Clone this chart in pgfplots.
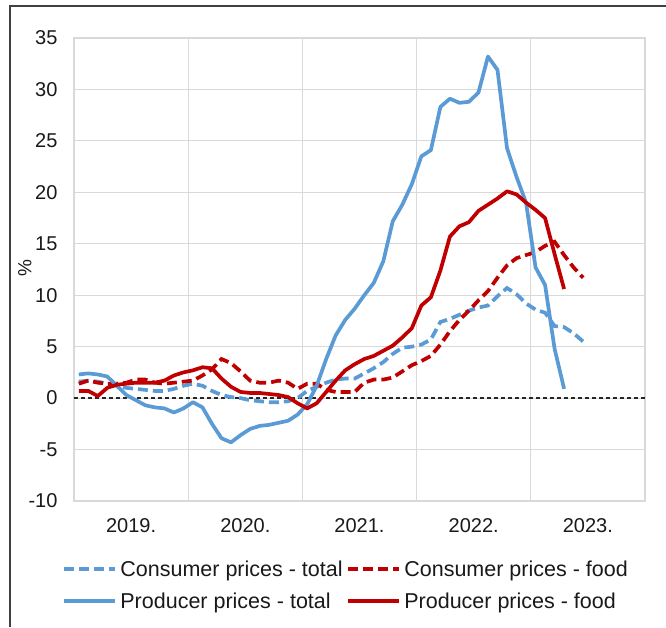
\documentclass[border=0pt]{standalone}
\usepackage{pgfplots}
\usepackage{pgfplotstable}
\pgfplotsset{compat=1.18}
\usepackage{fontspec}
\setmainfont{Liberation Sans}
\definecolor{cblue}{RGB}{91,155,213}
\definecolor{cred}{RGB}{192,0,0}
\definecolor{gridgray}{RGB}{217,217,217}

\pgfplotstableread{
i cpit cpif ppit ppif
0 1.6 1.4 2.3 0.7
1 1.7 1.7 2.4 0.7
2 1.6 1.5 2.3 0.2
3 1.4 1.4 2.1 1.0
4 1.2 1.4 1.2 1.3
5 1.0 1.5 0.3 1.4
6 0.9 1.8 -0.2 1.5
7 0.8 1.8 -0.7 1.5
8 0.7 1.5 -0.9 1.5
9 0.7 1.4 -1.0 1.7
10 0.9 1.5 -1.4 2.2
11 1.2 1.6 -1.0 2.5
12 1.4 1.7 -0.4 2.7
13 1.2 2.2 -0.9 3.0
14 0.7 2.8 -2.5 2.9
15 0.3 3.8 -3.9 1.9
16 0.1 3.4 -4.3 1.1
17 0.0 2.6 -3.6 0.6
18 -0.2 1.7 -3.0 0.5
19 -0.3 1.5 -2.7 0.5
20 -0.4 1.5 -2.6 0.4
21 -0.4 1.7 -2.4 0.3
22 -0.3 1.5 -2.2 0.1
23 0.0 0.9 -1.6 -0.5
24 0.7 1.4 -0.6 -1.0
25 1.1 1.4 1.2 -0.5
26 1.5 0.8 3.8 0.6
27 1.8 0.6 6.1 1.7
28 1.9 0.6 7.6 2.7
29 1.9 0.6 8.7 3.3
30 2.4 1.5 10.0 3.8
31 2.9 1.8 11.2 4.1
32 3.5 1.8 13.3 4.6
33 4.3 2.0 17.2 5.1
34 4.9 2.6 18.8 5.9
35 5.0 3.2 20.8 6.8
36 5.2 3.6 23.5 9.0
37 5.7 4.1 24.1 9.8
38 7.4 5.2 28.3 12.4
39 7.7 6.5 29.1 15.7
40 8.1 7.6 28.7 16.7
41 8.5 8.5 28.8 17.1
42 8.8 9.5 29.7 18.2
43 9.0 10.4 33.2 18.8
44 9.9 11.7 31.9 19.4
45 10.7 12.9 24.3 20.1
46 10.1 13.6 21.5 19.8
47 9.2 13.9 19.0 19.0
48 8.6 14.2 12.7 18.3
49 8.3 14.8 11.0 17.5
50 7.0 15.2 4.8 14.0
51 6.9 13.9 0.9 10.6
52 6.3 12.7 nan nan
53 5.5 11.7 nan nan
}\datatable

\begin{document}
\begin{tikzpicture}
\useasboundingbox (0,0) rectangle (666pt,627pt);
\draw[line width=1.5pt, black!75] (10pt,0pt) -- (10pt,621pt) -- (666pt,621pt);
\begin{axis}[
  at={(74pt,126pt)}, anchor=south west,
  scale only axis, width=571pt, height=463pt,
  xmin=-0.5, xmax=59.5, ymin=-10, ymax=35,
  ytick={-10,-5,...,35},
  xtick={5.5,17.5,29.5,41.5,53.5},
  xticklabels={2019.,2020.,2021.,2022.,2023.},
  minor xtick={11.5,23.5,35.5,47.5},
  xminorgrids, ymajorgrids, xmajorgrids=false,
  grid style={draw=gridgray, line width=1.2pt},
  minor grid style={draw=gridgray, line width=1.2pt},
  axis line style={draw=gridgray, line width=1.2pt},
  major tick length=0pt, minor tick length=0pt,
  /pgf/number format/assume math mode=true,
  tick label style={font=\fontsize{20}{24}\selectfont, text=black!90},
  yticklabel style={xshift=-13pt},
  xticklabel style={yshift=-14pt},
  ylabel={\%},
  every axis y label/.style={at={(axis description cs:-0.086,0.503)}, rotate=90, anchor=center,
    font=\fontsize{19}{22}\selectfont, text=black!90},
  legend columns=2,
  legend cell align=left,
  legend style={draw=none, fill=none, at={(axis description cs:0,0)}, anchor=north west,
    xshift=-15pt, yshift=-54pt, font=\fontsize{21.5}{25}\selectfont,
    nodes={inner sep=3.5pt, text=black!90}, row sep=8pt,
    /tikz/every even column/.append style={column sep=0pt}},
  legend image code/.code={\draw[#1] (0pt,0pt) -- (51pt,0pt);},
  clip=false,
]
\addplot[black!85, line width=1.3pt, dash pattern=on 4pt off 3pt, forget plot] coordinates {(-0.5,0) (59.5,0)};
\addplot[cblue, line width=3.7pt, dash pattern=on 10pt off 5pt] table[x=i, y=cpit] {\datatable};
\addlegendentry{Consumer prices - total}
\addplot[cred, line width=3.7pt, dash pattern=on 10pt off 5pt] table[x=i, y=cpif] {\datatable};
\addlegendentry{Consumer prices - food}
\addplot[cblue, line width=3.7pt, line join=round] table[x=i, y=ppit] {\datatable};
\addlegendentry{Producer prices - total}
\addplot[cred, line width=3.7pt, line join=round] table[x=i, y=ppif] {\datatable};
\addlegendentry{Producer prices - food}
\end{axis}
\end{tikzpicture}
\end{document}
